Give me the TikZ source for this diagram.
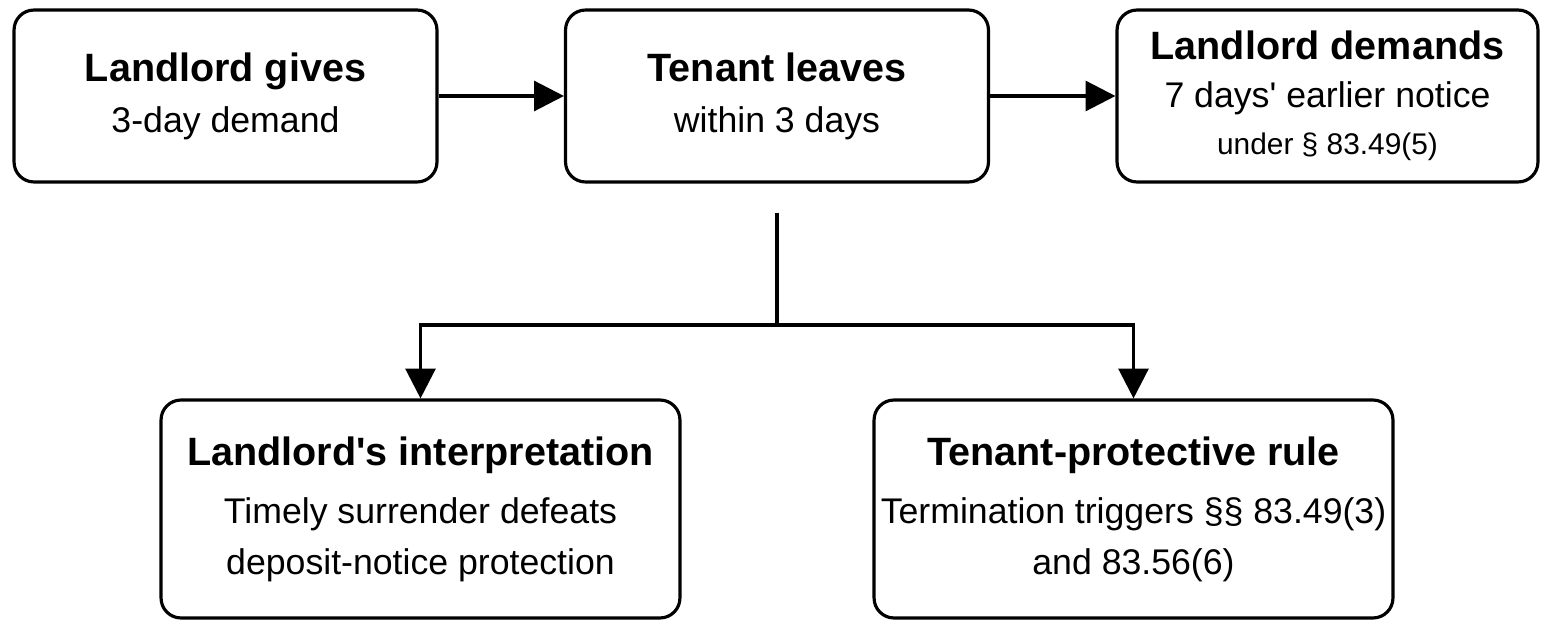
\documentclass[tikz,border=0pt]{standalone}
\usepackage{fontspec}
\setmainfont{Liberation Sans}
\usetikzlibrary{arrows.meta}
\newcommand{\ap}{\textquotesingle}
\begin{document}
\begin{tikzpicture}[x=0.02cm,y=-0.02cm,
    step/.style={draw,line width=1.8pt,rounded corners=0.4cm,align=center,
        minimum width=#1,font=\fontsize{20.3}{29}\selectfont},
    step/.default=8.46cm,
    hd/.style={font=\fontsize{22.5}{29}\selectfont\bfseries},
    link/.style={line width=1.9pt,-{Triangle[length=17pt,width=17pt]}}]
    \useasboundingbox (0,0) rectangle (1554,641);

    \node[step,minimum height=3.44cm] (give) at (225.5,96)
        {{\fontsize{22.5}{29}\selectfont\bfseries Landlord gives}\\3-day demand};
    \node[step,minimum height=3.44cm] (leave) at (777,96)
        {{\fontsize{22.5}{29}\selectfont\bfseries Tenant leaves}\\within 3 days};
    \node[step=8.42cm,minimum height=3.44cm,
        font=\fontsize{20.3}{27}\selectfont] (demand) at (1327.5,96)
        {{\fontsize{22.5}{27}\selectfont\bfseries Landlord demands}\\7 days\ap{} earlier notice\\
         {\fontsize{17}{27}\selectfont under § 83.49(5)}};
    \node[step=10.38cm,minimum height=4.36cm] (interp) at (420.5,509)
        {{\fontsize{22.5}{29}\selectfont\bfseries Landlord\ap{}s interpretation}\\[4pt]Timely surrender defeats\\deposit-notice protection};
    \node[step=10.38cm,minimum height=4.36cm] (rule) at (1133.5,509)
        {{\fontsize{22.5}{29}\selectfont\bfseries Tenant-protective rule}\\[4pt]Termination triggers §§ 83.49(3)\\and 83.56(6)};

    \coordinate (split) at (777,213);

    \draw[link] (give) -- (leave);
    \draw[link] (leave) -- (demand);
    \draw[link] (split) -- (777,325) -| (interp.north);
    \draw[link] (split) -- (777,325) -| (rule.north);
\end{tikzpicture}
\end{document}
